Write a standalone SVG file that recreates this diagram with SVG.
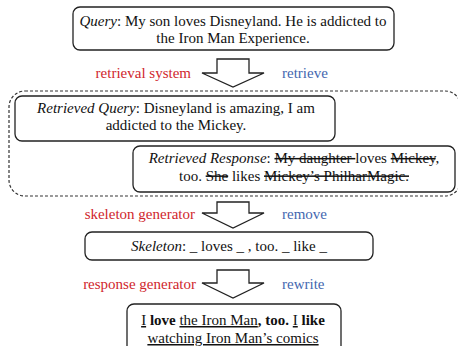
<svg xmlns="http://www.w3.org/2000/svg" width="458" height="346" viewBox="0 0 458 346" font-family="'Liberation Serif', 'DejaVu Serif', serif">
  <style>
    text { font-family: 'Liberation Serif', 'DejaVu Serif', serif; font-size: 15px; fill: #111; }
    .box { fill: #fff; stroke: #222; stroke-width: 1.3; }
    .group { fill: none; stroke: #333; stroke-width: 1.2; stroke-dasharray: 3 2; }
    .arrow { fill: #fff; stroke: #222; stroke-width: 1.3; stroke-linejoin: miter; }
    .mid { text-anchor: middle; }
    .red { fill: #d0262d; text-anchor: end; }
    .blue { fill: #4467b0; }
    .it { font-style: italic; }
    .b { font-weight: bold; }
    .s { text-decoration: line-through; }
    .u { text-decoration: underline; }
  </style>

  <!-- retrieved pair container -->
  <rect id="retrieved-group" class="group" x="9" y="91" width="452" height="105" rx="16"/>

  <g id="query">
    <rect class="box" x="73" y="7" width="321" height="43" rx="7"/>
    <text class="mid" x="233" y="25.5"><tspan class="it">Query</tspan>: My son loves Disneyland. He is addicted to</text>
    <text class="mid" x="233" y="43">the Iron Man Experience.</text>
  </g>

  <g id="retrieved-query">
    <rect class="box" x="15" y="96" width="320" height="45" rx="7"/>
    <text class="mid" x="176" y="112.5"><tspan class="it">Retrieved Query</tspan>: Disneyland is amazing, I am</text>
    <text class="mid" x="176" y="129.5">addicted to the Mickey.</text>
  </g>

  <g id="retrieved-response">
    <rect class="box" x="133" y="146" width="322" height="46" rx="7"/>
    <text class="mid" x="294" y="163"><tspan class="it">Retrieved Response</tspan>: <tspan class="s">My daughter </tspan>loves <tspan class="s">Mickey</tspan>,</text>
    <text class="mid" x="294" y="180.5">too. <tspan class="s">She</tspan> likes <tspan class="s">Mickey’s PhilharMagic.</tspan></text>
  </g>

  <g id="skeleton">
    <rect class="box" x="85" y="232" width="288" height="28" rx="7"/>
    <text class="mid" x="229" y="250.5"><tspan class="it">Skeleton</tspan>: _ loves _ , too. _ like _</text>
  </g>

  <g id="response">
    <rect class="box" x="127" y="304" width="214" height="50" rx="7"/>
    <text class="mid" x="233" y="325"><tspan class="u">I</tspan><tspan class="b"> love </tspan><tspan class="u">the Iron Man</tspan><tspan class="b">, too. </tspan><tspan class="u">I</tspan><tspan class="b"> like</tspan></text>
    <text class="mid" x="233" y="343"><tspan class="u">watching Iron Man’s comics</tspan></text>
  </g>

  <g id="connectors">
    <polygon class="arrow" points="217,59 249,59 249,73 264,73 233,87 202,73 217,73"/>
    <polygon class="arrow" points="217,202 249,202 249,213 264,213 233,228 202,213 217,213"/>
    <polygon class="arrow" points="217,270 249,270 249,283 264,283 233,298 202,283 217,283"/>
    <text class="red" x="191" y="77.5">retrieval system</text>
    <text class="blue" x="282" y="77.5">retrieve</text>
    <text class="red" x="195" y="219">skeleton generator</text>
    <text class="blue" x="282" y="219">remove</text>
    <text class="red" x="196" y="289">response generator</text>
    <text class="blue" x="282" y="289">rewrite</text>
  </g>
</svg>
